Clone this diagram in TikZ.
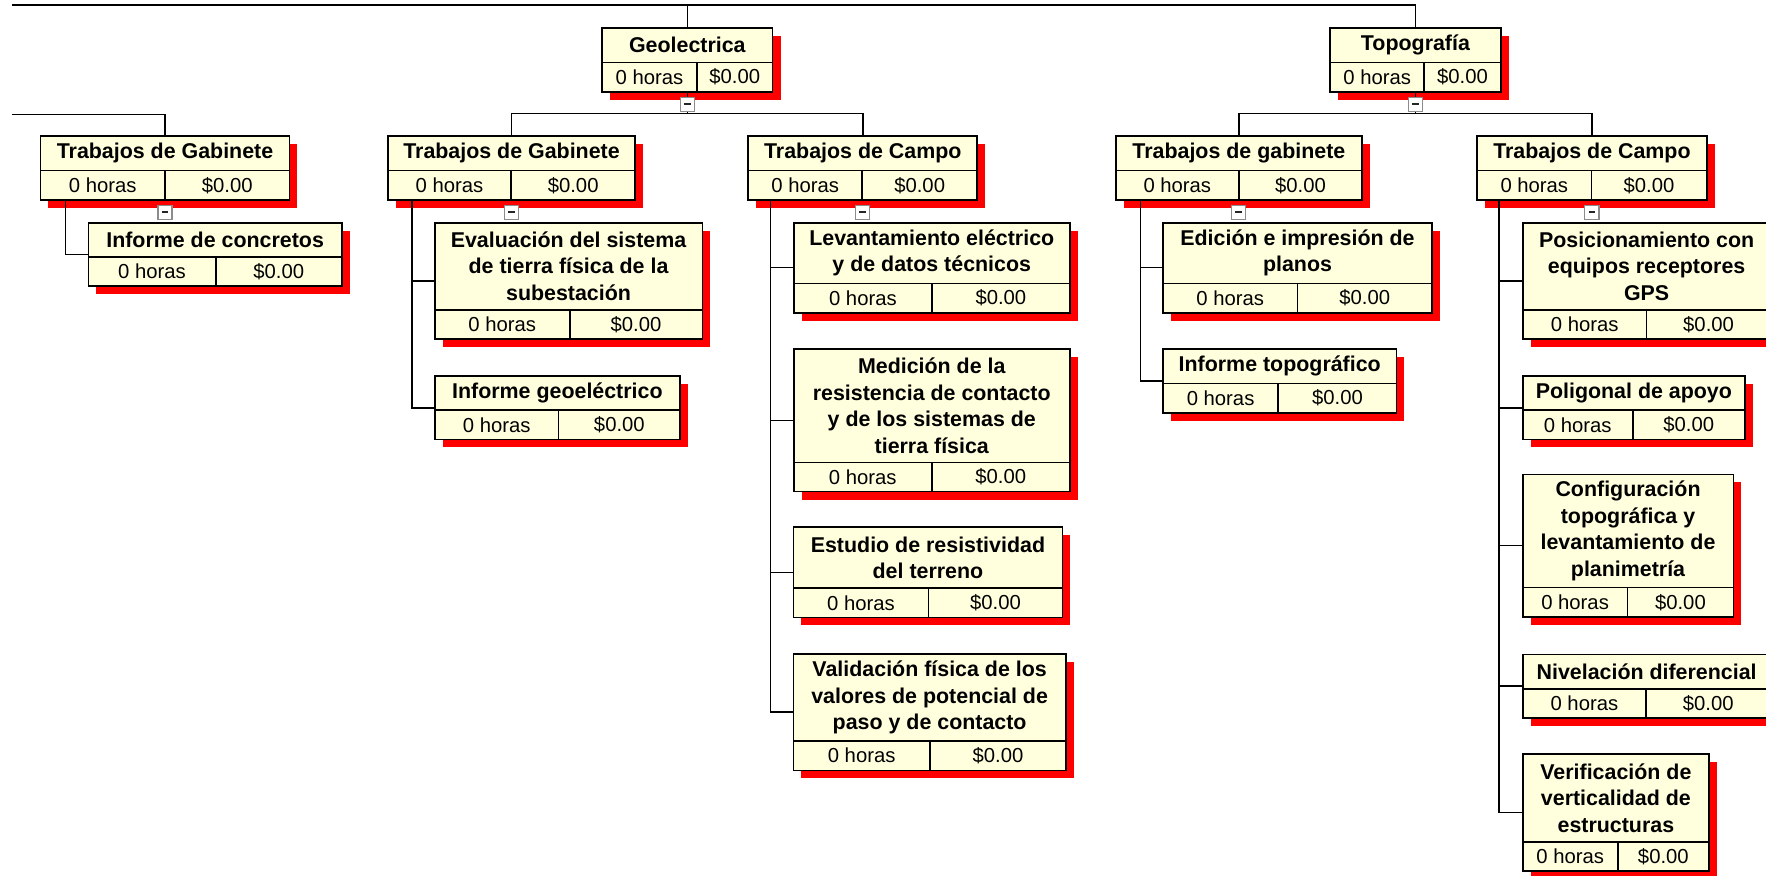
\documentclass[tikz,border=0pt]{standalone}
\usepackage{fontspec}
\setmainfont{Liberation Sans}
\definecolor{cellfill}{RGB}{255,255,222}
\definecolor{shadowred}{RGB}{255,0,0}
\tikzset{
  link/.style={line width=1.3pt, black},
  shade/.style={fill=shadowred},
  frame/.style={inner sep=0pt, outer sep=0pt},
  titlecell/.style={draw=black, line width=1.5pt, fill=cellfill, inner sep=0pt, outer sep=0pt,
    align=center, font=\bfseries\fontsize{19}{23.5}\selectfont},
  valcell/.style={draw=black, line width=1.5pt, fill=cellfill, inner sep=0pt, outer sep=0pt,
    minimum height=26pt, font=\fontsize{18}{22}\selectfont},
  minusbox/.style={draw=black!45, line width=1pt, fill=white, minimum size=12.5pt, inner sep=0pt,
    path picture={\draw[line width=1.5pt, black!85]
      ([xshift=-3pt]path picture bounding box.center) -- ([xshift=3pt]path picture bounding box.center);}}
}
% \wbsbox{name}{left}{top}{width}{title height}{left cell width}{title}
\newcommand\wbsbox[7]{%
  \fill[shade] (#2+7,#3+7) rectangle ++(#4,#5+26);
  \node[frame, minimum width=#4, minimum height=#5+26, anchor=north west] (#1) at (#2,#3) {};
  \node[titlecell, minimum width=#4, minimum height=#5, anchor=north west] (#1-t) at (#2,#3) {#7};
  \node[valcell, minimum width=#6, anchor=north west] (#1-h) at (#1-t.south west) {0 horas};
  \node[valcell, minimum width=#4-#6, anchor=north west] (#1-c) at (#1-h.north east) {\$0.00};
}
\begin{document}
\begin{tikzpicture}[x=1pt, y=-1pt]
\useasboundingbox (0,0) rectangle (1568,777);
\clip (0,0) rectangle (1568,777);

% summary tasks
\wbsbox{geo}{534.5}{25}{151.5}{30.5}{84.3}{Geolectrica}
\wbsbox{topo}{1181}{25}{151.5}{30.5}{83.6}{Topografía}

% second level
\wbsbox{gabL}{36}{121}{221}{30.5}{110.5}{Trabajos de Gabinete}
\wbsbox{gab}{344.3}{121}{219.7}{30.5}{109.5}{Trabajos de Gabinete}
\wbsbox{campo}{664.4}{121}{203.3}{30.5}{101}{Trabajos de Campo}
\wbsbox{tgab}{990.6}{121}{218.7}{30.5}{109.4}{Trabajos de gabinete}
\wbsbox{tcampo}{1311.6}{121}{203.7}{30.5}{101.4}{Trabajos de Campo}

% work packages
\wbsbox{conc}{78.5}{197.7}{225}{30.5}{113}{Informe de concretos}

\wbsbox{eval}{386}{197.7}{237.6}{77.3}{119.8}{Evaluación del sistema\\de tierra física de la\\subestación}
\wbsbox{ginf}{386}{333.8}{217.8}{30.5}{110}{Informe geoeléctrico}

\wbsbox{lev}{704.8}{197.7}{245}{54}{122.7}{Levantamiento eléctrico\\y de datos técnicos}
\wbsbox{med}{704.8}{310}{245}{100.5}{122.5}{Medición de la\\resistencia de contacto\\y de los sistemas de\\tierra física}
\wbsbox{est}{704.4}{468.2}{239}{54}{120}{Estudio de resistividad\\del terreno}
\wbsbox{val}{704.4}{580.7}{242}{77.3}{121.3}{Validación física de los\\valores de potencial de\\paso y de contacto}

\wbsbox{edi}{1032.5}{197.7}{239}{54}{119.5}{Edición e impresión de\\planos}
\wbsbox{tinf}{1032.5}{310}{207.5}{30.5}{102.5}{Informe topográfico}

\wbsbox{pos}{1352}{197.7}{220}{77.3}{110}{Posicionamiento con\\equipos receptores\\GPS}
\wbsbox{pol}{1352}{333.8}{197.3}{30.5}{97.6}{Poligonal de apoyo}
\wbsbox{conf}{1352}{421.2}{187}{100.5}{93}{Configuración\\topográfica y\\levantamiento de\\planimetría}
\wbsbox{niv}{1352}{581}{220}{30.5}{109.5}{Nivelación diferencial}
\wbsbox{ver}{1352}{669.5}{165.4}{77.8}{84.3}{Verificación de\\verticalidad de\\estructuras}

% top bus and the branch that leaves to the left
\coordinate (topbus) at (11,4.4);
\coordinate (leftbus) at (11,101.5);
\draw[link] (topbus) -| (topo.north);
\draw[link] (geo.north) -- (geo.north |- topbus);
\draw[link] (leftbus) -| (gabL.north);

% summary tasks to their phases
\path (geo.south) ++(0,19.5) coordinate (geo-j);
\path (topo.south) ++(0,19.5) coordinate (topo-j);
\draw[link] (geo.south) -- (geo-j);
\draw[link] (gab.north) |- (geo-j) -| (campo.north);
\draw[link] (topo.south) -- (topo-j);
\draw[link] (tgab.north) |- (topo-j) -| (tcampo.north);

% phases to their work packages
\draw[link] ([xshift=22pt]gabL.south west) |- (conc.west);

\draw[link] ([xshift=21.7pt]gab.south west) |- (ginf.west);
\draw[link] ([xshift=21.7pt]gab.south west) |- (eval.west);

\draw[link] ([xshift=19.6pt]campo.south west) |- (val.west);
\draw[link] ([xshift=19.6pt]campo.south west) |- (est.west);
\draw[link] ([xshift=19.6pt]campo.south west) |- (med.west);
\draw[link] ([xshift=19.6pt]campo.south west) |- (lev.west);

\draw[link] ([xshift=21.9pt]tgab.south west) |- (tinf.west);
\draw[link] ([xshift=21.9pt]tgab.south west) |- (edi.west);

\draw[link] ([xshift=19.4pt]tcampo.south west) |- (ver.west);
\draw[link] ([xshift=19.4pt]tcampo.south west) |- (niv.west);
\draw[link] ([xshift=19.4pt]tcampo.south west) |- (conf.west);
\draw[link] ([xshift=19.4pt]tcampo.south west) |- (pol.west);
\draw[link] ([xshift=19.4pt]tcampo.south west) |- (pos.west);

% collapse markers
\foreach \n in {geo,topo,gabL,gab,campo,tgab,tcampo}
  \node[minusbox] (\n-m) at ([yshift=-11pt]\n.south) {};
\end{tikzpicture}
\end{document}
